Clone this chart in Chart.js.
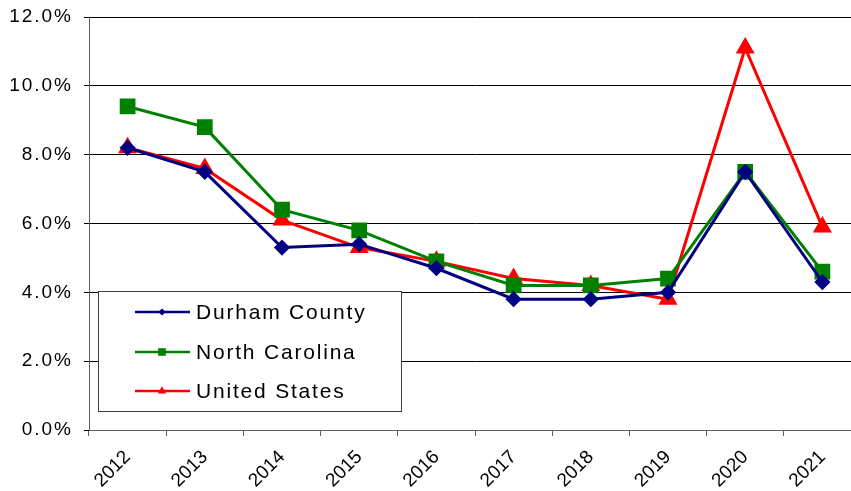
<!DOCTYPE html>
<html>
<head>
<meta charset="utf-8">
<script src="https://cdn.jsdelivr.net/npm/chart.js@4"></script>
<style>
  html, body { margin: 0; padding: 0; background: #fff; overflow: hidden; }
</style>
</head>
<body>
<canvas id="chart" width="873" height="491"></canvas>
<script>
Chart.defaults.font.family = '"Liberation Sans", Arial, sans-serif';
Chart.defaults.font.size = 19;
Chart.defaults.color = '#000000';

// categories and series
const years = ['2012', '2013', '2014', '2015', '2016', '2017', '2018', '2019', '2020', '2021'];
const durham = [8.2, 7.5, 5.3, 5.4, 4.7, 3.8, 3.8, 4.0, 7.5, 4.3];
const northCarolina = [9.4, 8.8, 6.4, 5.8, 4.9, 4.2, 4.2, 4.4, 7.5, 4.6];
const unitedStates = [8.2, 7.6, 6.1, 5.3, 4.9, 4.4, 4.2, 3.8, 11.1, 5.9];
const yTicks = [0, 2, 4, 6, 8, 10, 12];

// legend box drawn inside the plot area
const boxLegend = {
  id: 'boxLegend',
  afterDraw(chart) {
    const ctx = chart.ctx;
    const x0 = 98.5, y0 = 291.5, w = 303, h = 120;
    ctx.save();
    ctx.fillStyle = '#ffffff';
    ctx.fillRect(x0, y0, w, h);
    ctx.strokeStyle = '#404040';
    ctx.lineWidth = 1;
    ctx.strokeRect(x0, y0, w, h);
    ctx.font = '21px "Liberation Sans", Arial, sans-serif';
    ctx.textBaseline = 'middle';
    if ('letterSpacing' in ctx) ctx.letterSpacing = '1.8px';
    const rows = [312, 352, 391];
    chart.data.datasets.forEach((ds, i) => {
      const y = rows[i];
      ctx.strokeStyle = ds.borderColor;
      ctx.lineWidth = 2.5;
      ctx.beginPath();
      ctx.moveTo(135, y);
      ctx.lineTo(190, y);
      ctx.stroke();
      ctx.fillStyle = ds.pointBackgroundColor;
      Chart.helpers.drawPoint(ctx, { pointStyle: ds.pointStyle, radius: ds.pointRadius * 0.6, borderWidth: 0 }, 162, y);
      ctx.fillStyle = '#000000';
      ctx.fillText(ds.label, 196, y + 1);
    });
    ctx.restore();
  }
};

new Chart(document.getElementById('chart'), {
  type: 'line',
  data: {
    labels: years,
    datasets: [
      {
        label: 'Durham County',
        data: durham,
        borderColor: '#000080',
        backgroundColor: '#000080',
        pointBackgroundColor: '#000080',
        pointBorderColor: '#000080',
        pointStyle: 'rectRot',
        pointRadius: 6,
        borderWidth: 3,
      },
      {
        label: 'North Carolina',
        data: northCarolina,
        borderColor: '#008000',
        backgroundColor: '#008000',
        pointBackgroundColor: '#008000',
        pointBorderColor: '#008000',
        pointStyle: 'rect',
        pointRadius: 9,
        borderWidth: 3,
      },
      {
        label: 'United States',
        data: unitedStates,
        borderColor: '#ff0000',
        backgroundColor: '#ff0000',
        pointBackgroundColor: '#ff0000',
        pointBorderColor: '#ff0000',
        pointStyle: 'triangle',
        pointRadius: 8,
        borderWidth: 3,
      },
    ],
  },
  options: {
    responsive: false,
    devicePixelRatio: 1,
    animation: false,
    layout: { padding: { top: 17, right: 0, left: 0, bottom: 0 } },
    plugins: {
      legend: { display: false },
      tooltip: { enabled: false },
    },
    scales: {
      x: {
        offset: true,
        grid: {
          offset: true,
          drawOnChartArea: false,
          color: '#606060',
          tickLength: 6,
        },
        border: { color: '#606060', width: 1 },
        ticks: { minRotation: 45, maxRotation: 45, padding: 10 },
        afterFit(scale) { scale.height = 61; },
      },
      y: {
        min: 0,
        max: 12,
        afterBuildTicks(scale) { scale.ticks = yTicks.map(v => ({ value: v })); },
        grid: { color: '#000000', tickLength: 5 },
        border: { color: '#606060', width: 1 },
        ticks: {
          padding: 11,
          callback: v => v.toFixed(1) + '%',
        },
        afterFit(scale) {
          scale.width = 89;
          scale.paddingTop = 0;
          scale.paddingBottom = 0;
        },
        afterUpdate(scale) {
          // the percent labels are a little wider spaced than the years
          if (scale._spaced) return;
          const drawLabels = scale.drawLabels.bind(scale);
          scale.drawLabels = function (area) {
            this.ctx.save();
            if ('letterSpacing' in this.ctx) this.ctx.letterSpacing = '2px';
            drawLabels(area);
            this.ctx.restore();
          };
          scale._spaced = true;
        },
      },
    },
  },
  plugins: [boxLegend],
});
</script>
</body>
</html>
